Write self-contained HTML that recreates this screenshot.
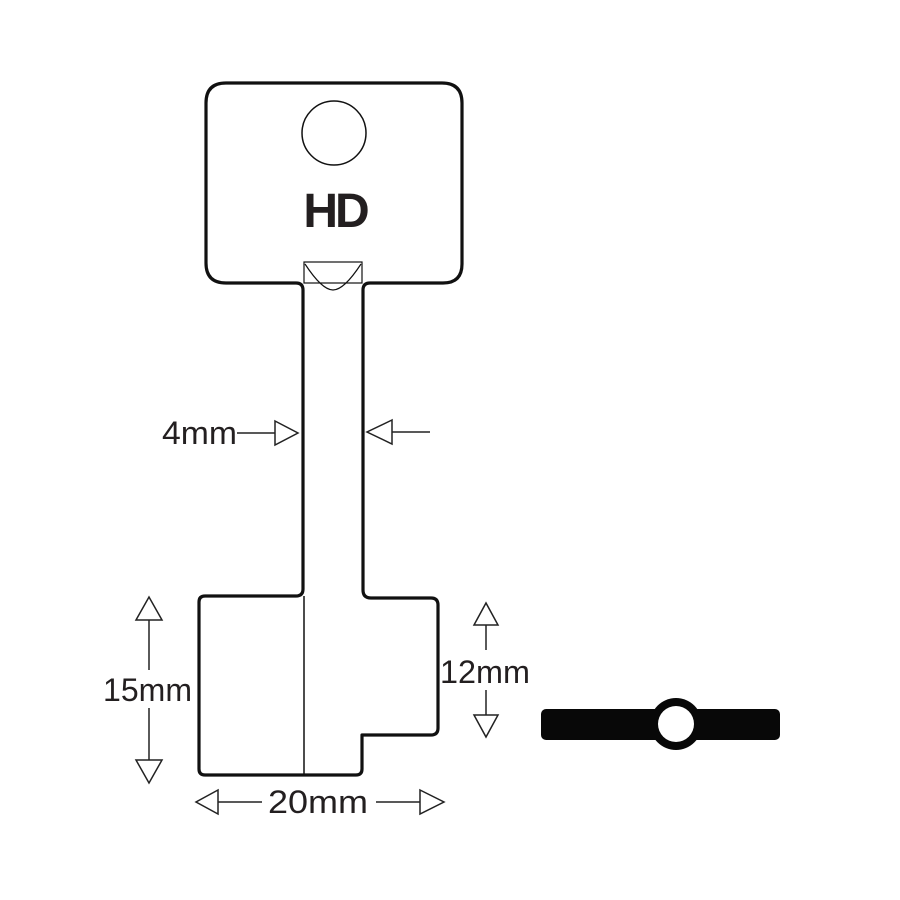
<!DOCTYPE html>
<html><head><style>body{margin:0;background:#fff}svg{display:block}</style></head><body>
<svg width="900" height="900" viewBox="0 0 900 900" xmlns="http://www.w3.org/2000/svg">
<g fill="none" stroke="#111" stroke-width="3.2" stroke-linejoin="round">
<path d="M226,83 H442 Q462,83 462,103 V264 Q462,283 443,283 H370 Q363,283 363,290 V590 Q363,598 371,598 H431 Q438,598 438,605 V728 Q438,735 431,735 H362 V769 Q362,775 356,775 H205 Q199,775 199,769 V602 Q199,596 205,596 H296 Q303,596 303,589 V290 Q303,283 296,283 H226 Q206,283 206,263 V103 Q206,83 226,83 Z"/>
</g>
<g fill="none" stroke="#111" stroke-width="1.5">
<line x1="304" y1="596" x2="304" y2="775"/>
<rect x="304" y="262" width="58" height="21" stroke-width="1.2"/>
<path d="M305,264 Q322,290 333,290 Q344,290 361,264" stroke-width="1.2"/>
<circle cx="334" cy="133" r="32"/>
</g>
<text x="335" y="227" text-anchor="middle" font-family="Liberation Sans, sans-serif" font-weight="bold" font-size="48" fill="#231f20" letter-spacing="-3">HD</text>
<g fill="none" stroke="#222" stroke-width="1.5">
<line x1="237" y1="433" x2="275" y2="433"/><path d="M275,421 L298,433 L275,445 Z"/>
<line x1="392" y1="432" x2="430" y2="432"/><path d="M392,420 L367,432 L392,444 Z"/>
<line x1="149" y1="620" x2="149" y2="670"/><path d="M136,620 L149,597 L162,620 Z"/>
<line x1="149" y1="708" x2="149" y2="760"/><path d="M136,760 L149,783 L162,760 Z"/>
<line x1="486" y1="625" x2="486" y2="650"/><path d="M474,625 L486,603 L498,625 Z"/>
<line x1="486" y1="690" x2="486" y2="715"/><path d="M474,715 L486,737 L498,715 Z"/>
<line x1="218" y1="802" x2="262" y2="802"/><path d="M218,790 L196,802 L218,814 Z"/>
<line x1="376" y1="802" x2="420" y2="802"/><path d="M420,790 L444,802 L420,814 Z"/>
</g>
<g font-family="Liberation Sans, sans-serif" font-size="32" fill="#231f20">
<text x="162" y="444" textLength="75" lengthAdjust="spacingAndGlyphs">4mm</text>
<text x="103" y="701" textLength="89" lengthAdjust="spacingAndGlyphs">15mm</text>
<text x="440" y="683" textLength="90" lengthAdjust="spacingAndGlyphs">12mm</text>
<text x="268" y="813" textLength="100" lengthAdjust="spacingAndGlyphs">20mm</text>
</g>
<rect x="541" y="709" width="239" height="31" rx="5" fill="#080808"/>
<circle cx="676" cy="724" r="26" fill="#080808"/>
<circle cx="676" cy="724" r="18" fill="#fff"/>
</svg>
</body></html>
